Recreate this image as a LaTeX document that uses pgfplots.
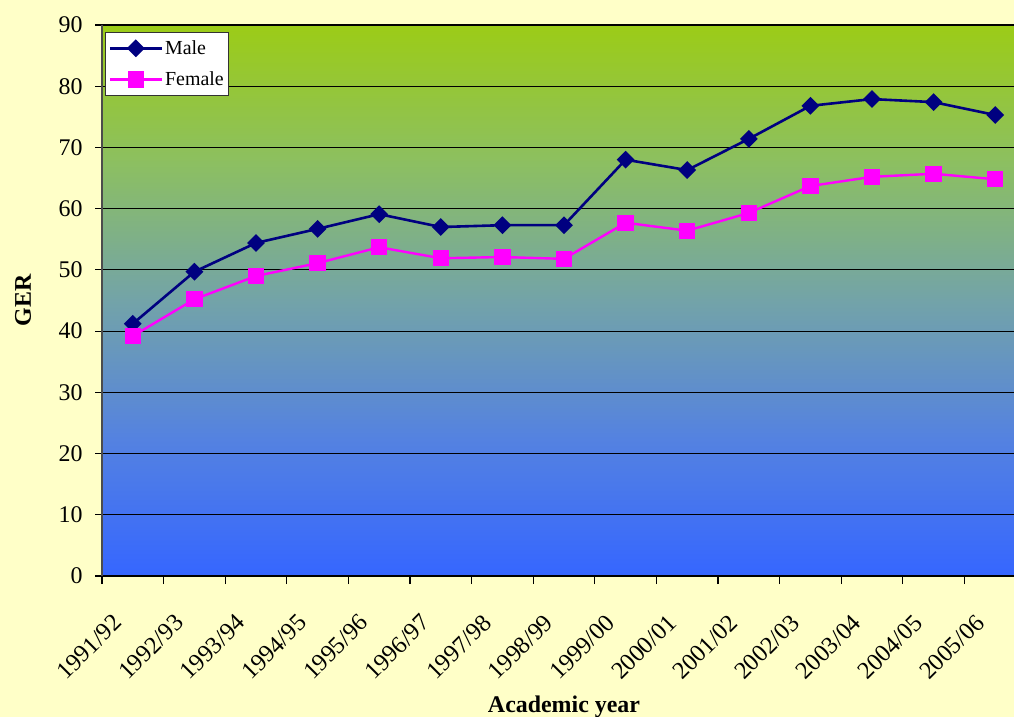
\documentclass[border=0pt]{standalone}
\usepackage{fontspec}
\setmainfont{Liberation Serif}
\usepackage{pgfplots}
\pgfplotsset{compat=1.18}

\definecolor{chartbg}{RGB}{255,255,200}
\definecolor{maleblue}{RGB}{0,0,128}
\definecolor{femalepink}{RGB}{255,0,255}

% plot area fill: green at the top, blue at the bottom
\pgfdeclareverticalshading{plotbg}{100bp}{%
  rgb(0bp)=(0.21,0.40,1.00);
  rgb(25bp)=(0.21,0.40,1.00);
  rgb(37.5bp)=(0.33,0.51,0.88);
  rgb(50bp)=(0.45,0.64,0.66);
  rgb(62.5bp)=(0.55,0.75,0.38);
  rgb(75bp)=(0.61,0.80,0.09);
  rgb(100bp)=(0.61,0.80,0.09)}

\begin{document}
\begin{tikzpicture}
\useasboundingbox (0,0) rectangle (1014bp,717bp);
\fill[chartbg] (0,0) rectangle (1014bp,717bp);
\clip (0,0) rectangle (1014bp,717bp);
\begin{axis}[
  at={(102bp,141bp)}, anchor=south west,
  scale only axis,
  width=924bp, height=551bp,
  xmin=-0.5, xmax=14.5,
  ymin=0, ymax=90,
  ytick={0,10,...,90},
  axis x line*=bottom,
  axis y line*=left,
  x axis line style={black, line width=1.2bp},
  y axis line style={black!70, line width=1.2bp},
  axis background/.style={shading=plotbg},
  ymajorgrids,
  major grid style={black, line width=1.1bp},
  tick align=outside,
  major tick length=7bp,
  minor tick length=8bp,
  xtick={0,...,14},
  x tick style={draw=none},
  minor xtick={-0.5,0.5,...,14.5},
  minor x tick style={draw=black, line width=1.1bp},
  y tick style={black, line width=1.1bp},
  xticklabels={1991/92,1992/93,1993/94,1994/95,1995/96,1996/97,1997/98,1998/99,1999/00,2000/01,2001/02,2002/03,2003/04,2004/05,2005/06},
  xticklabel style={rotate=45, anchor=east, font=\fontsize{24.5}{28}\selectfont, xshift=-32.5bp, yshift=-14.5bp},
  yticklabel style={font=\fontsize{24}{28}\selectfont, xshift=-9bp},
  /pgf/number format/assume math mode=true,
  xlabel={\textbf{Academic year}},
  ylabel={\textbf{GER}},
  xlabel style={at={(axis description cs:0.5,-0.238)}, anchor=center, font=\fontsize{24}{28}\selectfont},
  ylabel style={at={(axis description cs:-0.0855,0.5)}, anchor=center, font=\fontsize{24}{28}\selectfont},
  legend style={at={(axis description cs:0.0033,0.987)}, anchor=north west,
    draw=black!80, fill=white, line width=1bp,
    font=\fontsize{20}{24}\selectfont, cells={anchor=west},
    row sep=12bp, inner xsep=3bp, inner ysep=6bp},
  legend image code/.code={%
    \draw[mark repeat=2, mark phase=2] plot coordinates {(0bp,0bp) (26bp,0bp) (52bp,0bp)};},
]

\addplot[maleblue, line width=2.6bp, mark=square*, mark size=5bp,
  mark options={rotate=45, solid, fill=maleblue}] coordinates {
  (0,41.2) (1,49.7) (2,54.4) (3,56.7) (4,59.1) (5,57.0) (6,57.3) (7,57.3)
  (8,68.0) (9,66.3) (10,71.4) (11,76.8) (12,77.9) (13,77.4) (14,75.3)
};
\addlegendentry{Male}

\addplot[femalepink, line width=2.4bp, mark=square*, mark size=7bp,
  mark options={solid, fill=femalepink}] coordinates {
  (0,39.2) (1,45.2) (2,49.0) (3,51.1) (4,53.7) (5,51.9) (6,52.1) (7,51.8)
  (8,57.7) (9,56.4) (10,59.3) (11,63.7) (12,65.2) (13,65.7) (14,64.8)
};
\addlegendentry{Female}

\end{axis}
\end{tikzpicture}
\end{document}
